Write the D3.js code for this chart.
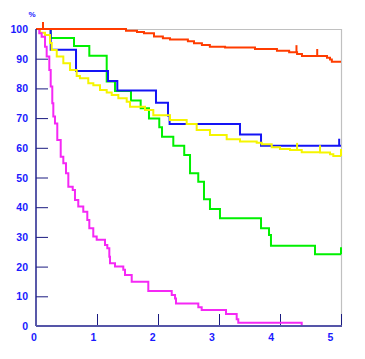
<!DOCTYPE html>
<html><head><meta charset="utf-8">
<script src="https://cdn.jsdelivr.net/npm/d3@7"></script>
<style>
html,body{margin:0;padding:0;background:#fff;}
svg{display:block;}
text{font-family:"Liberation Sans",Arial,sans-serif;font-weight:bold;fill:#1a1aff;}
</style></head>
<body>
<script>
// ---- data (years, survival %) ----
const yTicks = [0,10,20,30,40,50,60,70,80,90,100];
const xTicks = [0,1,2,3,4,5];
const yUnit = "%";

const redT = [0,1.475,1.656,1.77,1.934,2.08,2.197,2.49,2.59,2.72,2.85,3.10,3.59,3.95,4.15,4.28,4.36,4.77,4.82,4.85,5.0];
const redS = [100,99.4,99.0,98.6,97.5,96.9,96.5,95.9,95.2,94.6,94.0,93.8,93.3,92.7,92.2,91.6,90.9,90.3,89.7,89.0,89.0];
const redCensT = [0.115,4.27,4.61];
const redCensS = [100,92.2,90.9];

const blueT = [0,0.241,0.656,1.18,1.333,1.967,2.164,2.19,3.344,3.689,5.0];
const blueS = [100,93.0,85.9,82.5,79.3,75.2,70.8,68.0,64.5,60.7,60.7];
const blueCensT = [4.97];
const blueCensS = [60.7];

const greenT = [0,0.241,0.623,0.874,1.159,1.295,1.557,1.716,1.852,2.021,2.066,2.251,2.43,2.525,2.66,2.754,2.852,3.016,3.689,3.82,3.852,4.574,5.0];
const greenS = [100,97.0,94.3,91.0,82.3,79.1,75.9,73.3,69.9,66.9,63.7,60.7,57.6,51.4,48.6,42.7,39.4,36.3,32.9,30.6,27.0,24.2,24.2];
const greenCensT = [5.0];
const greenCensS = [24.2];

const yellowT = [0,0.066,0.148,0.23,0.257,0.34,0.448,0.557,0.667,0.72,0.857,0.94,1.049,1.159,1.241,1.35,1.487,1.541,1.787,1.923,2.197,2.47,2.634,2.852,3.126,3.344,3.618,3.7,3.864,4.0,4.164,4.356,4.656,4.82,4.874,5.0];
const yellowS = [100,98.7,98.0,95.3,92.9,90.7,88.5,86.2,84.2,83.4,81.7,81.1,79.5,78.6,77.8,76.7,75.5,73.8,72.7,71.0,69.4,68.0,66.0,64.3,62.9,62.1,61.7,61.2,60.2,59.6,59.3,58.5,58.4,57.8,57.2,57.2];
const yellowCensT = [4.28,4.656,5.0];
const yellowCensS = [59.3,58.5,57.2];

const magentaT = [0,0.054,0.093,0.148,0.175,0.218,0.241,0.267,0.284,0.311,0.349,0.405,0.448,0.492,0.53,0.602,0.639,0.693,0.775,0.841,0.874,0.939,0.995,1.131,1.169,1.202,1.213,1.295,1.431,1.459,1.569,1.841,2.225,2.279,2.295,2.661,2.716,3.115,3.29,3.316,4.356];
const magentaS = [100,98.6,97.4,94.0,90.7,86.2,80.6,75.0,70.5,68.2,62.6,57.0,54.8,51.4,46.9,45.8,42.4,40.2,38.5,35.7,32.9,30.1,29.0,27.3,26.2,23.3,21.1,20.0,18.9,17.2,14.9,11.8,10.4,9.3,7.6,6.3,5.4,4.0,2.3,1.1,0];

// ---- drawing ----
const W = 365, H = 359;
const svg = d3.select("body").append("svg").attr("width", W).attr("height", H);
const x = d3.scaleLinear().domain([0,5]).range([36,341]);
const xLab = d3.scaleLinear().domain([0,5]).range([34,330.5]);
const y = d3.scaleLinear().domain([0,100]).range([326,29]);

// frame (top & right)
svg.append("path").attr("d", `M${x(0)},${y(100)+0.5}H${x(5)+0.5}V${y(0)}`)
  .attr("fill","none").attr("stroke","#c0c0c0").attr("stroke-width",1.2);

// y ticks (inward)
svg.append("g").selectAll("line").data(yTicks).join("line")
  .attr("x1", x(0)).attr("x2", x(0)+12)
  .attr("y1", d=>y(d)+0.5).attr("y2", d=>y(d)+0.5)
  .attr("stroke","#1a1a80").attr("stroke-width",1);
svg.append("g").selectAll("text").data(yTicks).join("text")
  .attr("x", 28).attr("y", d=>y(d)+4).attr("text-anchor","end")
  .attr("font-size", 10.5).text(d=>d);
svg.append("text").attr("x",32).attr("y",17).attr("text-anchor","middle")
  .attr("font-size",8).text(yUnit);

// x ticks (upward)
svg.append("g").selectAll("line").data(xTicks.filter(d=>d>0)).join("line")
  .attr("x1", d=>x(d)+0.5).attr("x2", d=>x(d)+0.5)
  .attr("y1", y(0)).attr("y2", y(0)-12)
  .attr("stroke","#1a1a80").attr("stroke-width",1);
svg.append("g").selectAll("text").data(xTicks).join("text")
  .attr("x", d=>xLab(d)).attr("y", 341).attr("text-anchor","middle")
  .attr("font-size", 10.5).text(d=>d);

// curves
const series = [
  {T:greenT, S:greenS, cT:greenCensT, cS:greenCensS, c:"#00f000"},
  {T:blueT, S:blueS, cT:blueCensT, cS:blueCensS, c:"#1414f5"},
  {T:yellowT, S:yellowS, cT:yellowCensT, cS:yellowCensS, c:"#f5f500"},
  {T:magentaT, S:magentaS, cT:[], cS:[], c:"#f528f5"},
  {T:redT, S:redS, cT:redCensT, cS:redCensS, c:"#ff3c00"}
];
const line = d3.line().x(d=>x(d[0])).y(d=>y(d[1])).curve(d3.curveStepAfter);
series.forEach(s=>{
  const pts = s.T.map((t,i)=>[t, s.S[i]]);
  svg.append("path").attr("d", line(pts)).attr("fill","none")
    .attr("stroke", s.c).attr("stroke-width", 2).attr("stroke-linejoin","miter");
  s.cT.forEach((t,i)=>{
    svg.append("line").attr("x1", x(t)).attr("x2", x(t))
      .attr("y1", y(s.cS[i])).attr("y2", y(s.cS[i])-7)
      .attr("stroke", s.c).attr("stroke-width", 2);
  });
});

// axes lines
svg.append("line").attr("x1", x(0)).attr("x2", x(0)).attr("y1", y(100)).attr("y2", y(0))
  .attr("stroke","#22228c").attr("stroke-width",1.5);
svg.append("line").attr("x1", x(0)).attr("x2", x(5)+1).attr("y1", y(0)).attr("y2", y(0))
  .attr("stroke","#5555a8").attr("stroke-width",2);
</script>
</body></html>
